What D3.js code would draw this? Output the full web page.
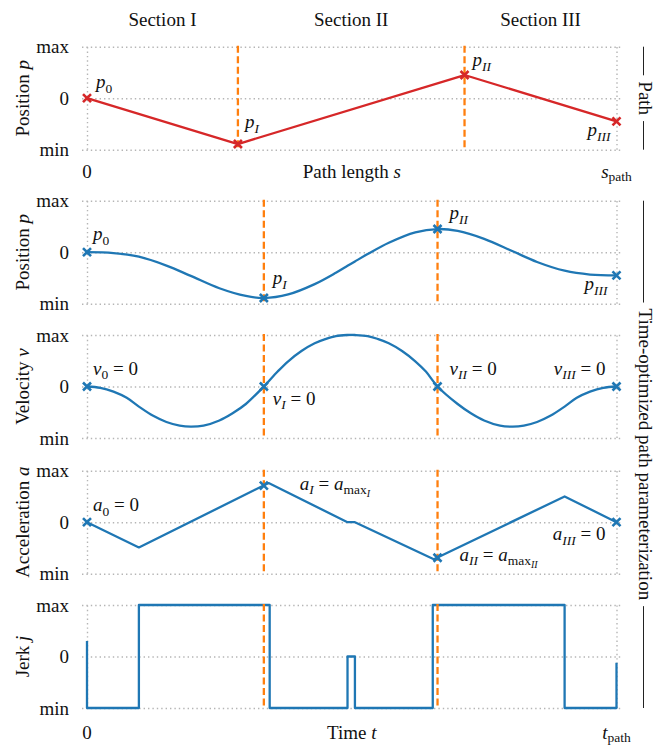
<!DOCTYPE html>
<html>
<head>
<meta charset="utf-8">
<script src="https://cdn.jsdelivr.net/npm/d3@7"></script>
<style>
  body { margin: 0; background: #fff; }
  svg text { font-family: "Liberation Serif", "Times New Roman", serif; fill: #111; white-space: pre; }
</style>
</head>
<body>
<svg id="chart" width="659" height="746"></svg>
<script>
// --- data (normalised units: min = -1, max = +1)
const sectionNames = ["Section I", "Section II", "Section III"];
const yTickValues = [-1, 0, 1];
const yTickLabels = ["min", "0", "max"];

// path: position over path length s (s normalised to s_path)
const pathS = [0, 0.285, 0.713, 1];
const pathP = [0, -0.89, 0.45, -0.45];

// section boundaries in time (normalised to t_path)
const sectionT = [0, 0.334, 0.662, 1];

const posT = [0, 0.05, 0.098, 0.15, 0.196, 0.25, 0.3, 0.334, 0.38, 0.43, 0.47, 0.492,
              0.506, 0.53, 0.57, 0.62, 0.662, 0.7, 0.75, 0.804, 0.85, 0.902, 0.95, 1];
const posP = [0, -0.016, -0.088, -0.26, -0.46, -0.70, -0.85, -0.89, -0.82, -0.62, -0.40, -0.265,
              -0.18, -0.036, 0.185, 0.387, 0.45, 0.414, 0.26, 0.018, -0.19, -0.36, -0.434, -0.45];
const posMarks = [0, -0.89, 0.45, -0.45];

const velT = [0, 0.025, 0.05, 0.075, 0.098, 0.125, 0.15, 0.175, 0.196, 0.22, 0.25, 0.275, 0.3, 0.334,
              0.36, 0.38, 0.405, 0.43, 0.45, 0.47, 0.492, 0.506, 0.53, 0.55, 0.57, 0.595, 0.62, 0.64, 0.662,
              0.7, 0.725, 0.75, 0.78, 0.804, 0.825, 0.85, 0.875, 0.902, 0.925, 0.95, 0.975, 1];
const velV = [0, -0.025, -0.10, -0.22, -0.39, -0.57, -0.69, -0.76, -0.78, -0.76, -0.66, -0.52, -0.34, 0,
              0.29, 0.49, 0.69, 0.84, 0.92, 0.98, 1.0, 1.0, 0.98, 0.92, 0.84, 0.69, 0.49, 0.29, 0,
              -0.34, -0.52, -0.66, -0.76, -0.78, -0.76, -0.69, -0.57, -0.39, -0.22, -0.10, -0.025, 0];
const velMarks = [0, 0, 0, 0];

const accT = [0, 0.098, 0.343, 0.492, 0.506, 0.655, 0.902, 1];
const accA = [0, -0.49, 0.76, 0, 0, -0.72, 0.5, 0];
const accMarks = [0, 0.71, -0.69, 0];

const jerkT = [0, 0, 0.098, 0.345, 0.492, 0.506, 0.653, 0.902, 1, 1];
const jerkJ = [0.3, -1, 1, -1, 0, -1, 1, -1, -1, -0.12];

// --- layout
const svg = d3.select("#chart");
const axLeft = 82, axRight = 621.5;
const panelH = 103;
const tops = [46.7, 200.7, 335, 470.7, 605];
const x = d3.scaleLinear().domain([0, 1]).range([87, 616.5]);

const RED = "#d62728", BLUE = "#1f77b4", ORANGE = "#ff7f0e", GRID = "#b5b5b5";
const FS = 19;
const smooth = d3.curveCatmullRom.alpha(0.5);

// math text helper: pieces {t, it, l} with l = subscript level
const I = (t, l = 0) => ({ t, it: true, l });
const R = (t, l = 0) => ({ t, it: false, l });
const sizes = [FS, 13.5, 10];
function mathText(sel, pieces, offs = [0, 4.5, 7.5]) {
  let cur = 0;
  pieces.forEach(p => {
    sel.append("tspan")
      .attr("font-style", p.it ? "italic" : "normal")
      .attr("font-size", sizes[p.l])
      .attr("dy", offs[p.l] - offs[cur])
      .text(p.t);
    cur = p.l;
  });
  return sel;
}

const panels = [
  { xs: pathS, lineX: pathS, lineY: pathP, marks: pathP, color: RED, curve: d3.curveLinear,
    ylabel: [R("Position "), I("p")],
    labels: [
      { k: 0, p: [I("p"), R("0", 1)], dx: 9, dy: -10, a: "start" },
      { k: 1, p: [I("p"), I("I", 1)], dx: 7, dy: -16, a: "start" },
      { k: 2, p: [I("p"), I("II", 1)], dx: 8, dy: -9, a: "start" },
      { k: 3, p: [I("p"), I("III", 1)], dx: -6, dy: 15, a: "end" }
    ] },
  { xs: sectionT, lineX: posT, lineY: posP, marks: posMarks, color: BLUE, curve: smooth,
    ylabel: [R("Position "), I("p")],
    labels: [
      { k: 0, p: [I("p"), R("0", 1)], dx: 6, dy: -12, a: "start" },
      { k: 1, p: [I("p"), I("I", 1)], dx: 9, dy: -14, a: "start" },
      { k: 2, p: [I("p"), I("II", 1)], dx: 12, dy: -10, a: "start" },
      { k: 3, p: [I("p"), I("III", 1)], dx: -9, dy: 15, a: "end" }
    ] },
  { xs: sectionT, lineX: velT, lineY: velV, marks: velMarks, color: BLUE, curve: smooth,
    ylabel: [R("Velocity "), I("v")],
    labels: [
      { k: 0, p: [I("v"), R("0", 1), R(" = 0")], dx: 6, dy: -12, a: "start" },
      { k: 1, p: [I("v"), I("I", 1), R(" = 0")], dx: 9, dy: 18, a: "start" },
      { k: 2, p: [I("v"), I("II", 1), R(" = 0")], dx: 12, dy: -12, a: "start" },
      { k: 3, p: [I("v"), I("III", 1), R(" = 0")], dx: -11, dy: -12, a: "end" }
    ] },
  { xs: sectionT, lineX: accT, lineY: accA, marks: accMarks, color: BLUE, curve: d3.curveLinear,
    ylabel: [R("Acceleration "), I("a")],
    labels: [
      { k: 0, p: [I("a"), R("0", 1), R(" = 0")], dx: 6, dy: -11, a: "start" },
      { k: 1, p: [I("a"), I("I", 1), R(" = "), I("a"), R("max", 1), I("I", 2)], dx: 36, dy: 4, a: "start" },
      { k: 2, p: [I("a"), I("II", 1), R(" = "), I("a"), R("max", 1), I("II", 2)], dx: 22, dy: 3, a: "start" },
      { k: 3, p: [I("a"), I("III", 1), R(" = 0")], dx: -11, dy: 18, a: "end" }
    ] },
  { xs: sectionT, lineX: jerkT, lineY: jerkJ, marks: null, color: BLUE, curve: d3.curveStepAfter,
    ylabel: [R("Jerk "), I("j")], labels: [] }
];

panels.forEach((P, i) => {
  const top = tops[i];
  const y = d3.scaleLinear().domain([-1, 1]).range([top + panelH, top]);
  const g = svg.append("g");

  // horizontal grid + tick labels
  const gy = g.append("g").attr("transform", `translate(${axLeft},0)`)
    .call(d3.axisLeft(y).tickValues(yTickValues)
      .tickFormat((d, j) => yTickLabels[j])
      .tickSize(-(axRight - axLeft)).tickPadding(13));
  gy.select(".domain").remove();
  gy.selectAll("line").attr("stroke", GRID).attr("stroke-width", 1.4).attr("stroke-dasharray", "1.4,3");
  gy.selectAll("text").attr("font-size", FS).attr("fill", "#111");

  // vertical grid at 0 and end
  const gx = g.append("g").attr("transform", `translate(0,${top + panelH})`)
    .call(d3.axisBottom(x).tickValues([0, 1]).tickSize(-panelH).tickFormat(""));
  gx.select(".domain").remove();
  gx.selectAll("line").attr("stroke", GRID).attr("stroke-width", 1.4).attr("stroke-dasharray", "1.4,3");

  // curve
  const pts = P.lineX.map((t, j) => [t, P.lineY[j]]);
  g.append("path").datum(pts)
    .attr("fill", "none").attr("stroke", P.color).attr("stroke-width", 2.3)
    .attr("stroke-linejoin", "round")
    .attr("d", d3.line().x(d => x(d[0])).y(d => y(d[1])).curve(P.curve));

  // section boundaries
  g.selectAll(".sec").data(P.xs.slice(1, 3)).join("line")
    .attr("x1", d => x(d)).attr("x2", d => x(d))
    .attr("y1", top - 1).attr("y2", top + panelH + 1)
    .attr("stroke", ORANGE).attr("stroke-width", 2.3).attr("stroke-dasharray", "7,3.5");

  // markers
  if (P.marks) {
    g.selectAll(".mk").data(P.marks).join("path")
      .attr("transform", (d, j) => `translate(${x(P.xs[j])},${y(d)})`)
      .attr("d", "M-4,-4L4,4M-4,4L4,-4")
      .attr("stroke", P.color).attr("stroke-width", 2.6).attr("fill", "none");
  }

  // annotations
  P.labels.forEach(L => {
    const t = g.append("text")
      .attr("x", x(P.xs[L.k]) + L.dx)
      .attr("y", y(P.marks[L.k]) + L.dy)
      .attr("text-anchor", L.a).attr("font-size", FS);
    mathText(t, L.p);
  });

  // y label
  const yl = svg.append("text")
    .attr("transform", `translate(28.5,${top + panelH / 2}) rotate(-90)`)
    .attr("text-anchor", "middle").attr("font-size", FS);
  mathText(yl, P.ylabel);
});

// section headings
sectionNames.forEach((n, j) => {
  svg.append("text").attr("x", x((pathS[j] + pathS[j + 1]) / 2)).attr("y", 26)
    .attr("text-anchor", "middle").attr("font-size", FS).text(n);
});

// x labels
function xLabels(baseline, mid, endPieces) {
  svg.append("text").attr("x", x(0)).attr("y", baseline).attr("text-anchor", "middle")
    .attr("font-size", FS).text("0");
  mathText(svg.append("text").attr("x", x(0.5)).attr("y", baseline).attr("text-anchor", "middle")
    .attr("font-size", FS), mid);
  mathText(svg.append("text").attr("x", x(1)).attr("y", baseline).attr("text-anchor", "middle")
    .attr("font-size", FS), endPieces, [0, 3, 5]);
}
xLabels(178, [R("Path length "), I("s")], [I("s"), R("path", 1)]);
xLabels(739, [R("Time "), I("t")], [I("t"), R("path", 1)]);

// right-hand group labels
function sideLabel(y0, y1, label) {
  const cx = 643.5, cy = (y0 + y1) / 2;
  const t = svg.append("text")
    .attr("transform", `translate(${cx - 5},${cy}) rotate(90)`)
    .attr("text-anchor", "middle").attr("font-size", FS).text(label);
  const half = t.node().getComputedTextLength() / 2 + 6;
  svg.append("line").attr("x1", cx).attr("x2", cx).attr("y1", y0).attr("y2", cy - half)
    .attr("stroke", "#222").attr("stroke-width", 1);
  svg.append("line").attr("x1", cx).attr("x2", cx).attr("y1", cy + half).attr("y2", y1)
    .attr("stroke", "#222").attr("stroke-width", 1);
}
sideLabel(tops[0], tops[0] + panelH, "Path");
sideLabel(tops[1], tops[4] + panelH, "Time-optimized path parameterization");
</script>
</body>
</html>
